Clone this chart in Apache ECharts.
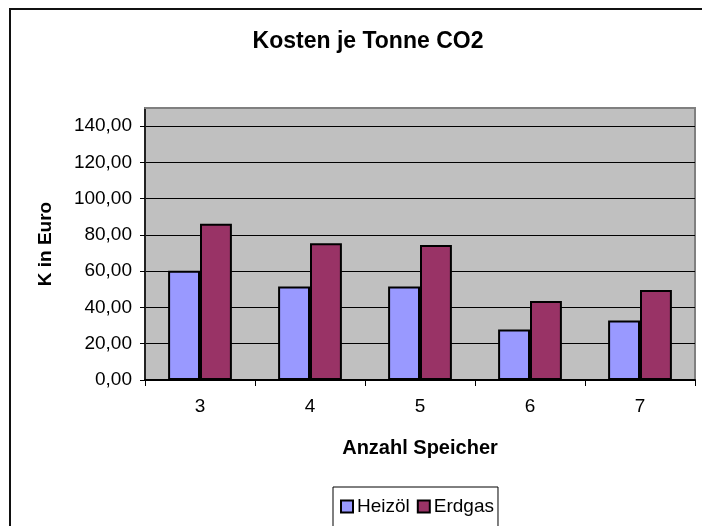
<!DOCTYPE html>
<html>
<head>
<meta charset="utf-8">
<script src="https://cdn.jsdelivr.net/npm/echarts@6/dist/echarts.min.js"></script>
<style>
  html, body { margin: 0; padding: 0; background: #fff; }
  #chart { width: 702px; height: 526px; }
</style>
</head>
<body>
<div id="chart"></div>
<script>
// Kosten je Tonne CO2 nach Anzahl Speicher
const categories = ['3', '4', '5', '6', '7'];
const heizoel = [60.2, 51.6, 51.6, 27.8, 32.8];
const erdgas = [86.2, 75.4, 74.4, 43.6, 49.6];
const yTicks = [0, 20, 40, 60, 80, 100, 120, 140];

const FONT = 'Liberation Sans, Arial, sans-serif';

const chart = echarts.init(document.getElementById('chart'), null, { renderer: 'canvas' });

chart.setOption({
  animation: false,
  backgroundColor: '#ffffff',
  textStyle: { fontFamily: FONT },
  title: {
    text: 'Kosten je Tonne CO2',
    left: 363,
    top: 25,
    textAlign: 'center',
    textStyle: { fontFamily: FONT, fontWeight: 'bold', fontSize: 23, color: '#000' }
  },
  legend: {
    data: ['Heizöl', 'Erdgas'],
    left: 333,
    top: 487,
    padding: [10, 4, 14, 7],
    itemWidth: 12,
    itemHeight: 12,
    itemGap: 7,
    icon: 'rect',
    borderColor: '#000',
    borderWidth: 1,
    backgroundColor: '#fff',
    textStyle: { fontFamily: FONT, fontSize: 19, color: '#000', padding: [0, 0, 0, -1] }
  },
  grid: {
    left: 145,
    top: 108,
    right: 7,
    bottom: 146,
    show: true,
    backgroundColor: '#C0C0C0',
    borderColor: '#808080',
    borderWidth: 2
  },
  xAxis: [{
    type: 'category',
    data: categories,
    name: 'Anzahl Speicher',
    nameLocation: 'middle',
    nameGap: 58,
    nameTextStyle: { fontFamily: FONT, fontWeight: 'bold', fontSize: 20, color: '#000' },
    axisLine: { lineStyle: { color: '#000', width: 2 } },
    axisTick: { show: true, length: 6, lineStyle: { color: '#000', width: 1 } },
    axisLabel: { fontFamily: FONT, fontSize: 19, color: '#000', margin: 17 },
    splitLine: { show: false }
  }, {
    type: 'category',
    position: 'top',
    data: categories,
    axisLine: { show: true, lineStyle: { color: '#808080', width: 2 } },
    axisTick: { show: false },
    axisLabel: { show: false },
    splitLine: { show: false }
  }],
  yAxis: {
    type: 'value',
    min: 0,
    max: 150,
    interval: 20,
    name: 'K in Euro',
    nameLocation: 'middle',
    nameGap: 90,
    nameTextStyle: { fontFamily: FONT, fontWeight: 'bold', fontSize: 19, color: '#000' },
    axisLine: { show: true, lineStyle: { color: '#222', width: 2 } },
    axisTick: { show: true, length: 5, lineStyle: { color: '#000', width: 1 } },
    axisLabel: {
      fontFamily: FONT,
      fontSize: 19,
      color: '#000',
      margin: 13,
      showMaxLabel: false,
      formatter: function (v) {
        return yTicks.indexOf(v) >= 0 ? v.toFixed(2).replace('.', ',') : '';
      }
    },
    splitLine: { show: true, lineStyle: { color: '#000', width: 1 } }
  },
  graphic: [{
    type: 'rect',
    shape: { x: 10, y: 9, width: 800, height: 600 },
    style: { fill: null, stroke: '#111', lineWidth: 2 },
    silent: true,
    z: 100
  }],
  series: [{
    name: 'Heizöl',
    type: 'bar',
    data: heizoel,
    barWidth: '29%',
    barGap: '0%',
    itemStyle: { color: '#9999FF', borderColor: '#000', borderWidth: 2 }
  }, {
    name: 'Erdgas',
    type: 'bar',
    data: erdgas,
    barWidth: '29%',
    barGap: '0%',
    itemStyle: { color: '#993366', borderColor: '#000', borderWidth: 2 }
  }]
});
</script>
</body>
</html>
